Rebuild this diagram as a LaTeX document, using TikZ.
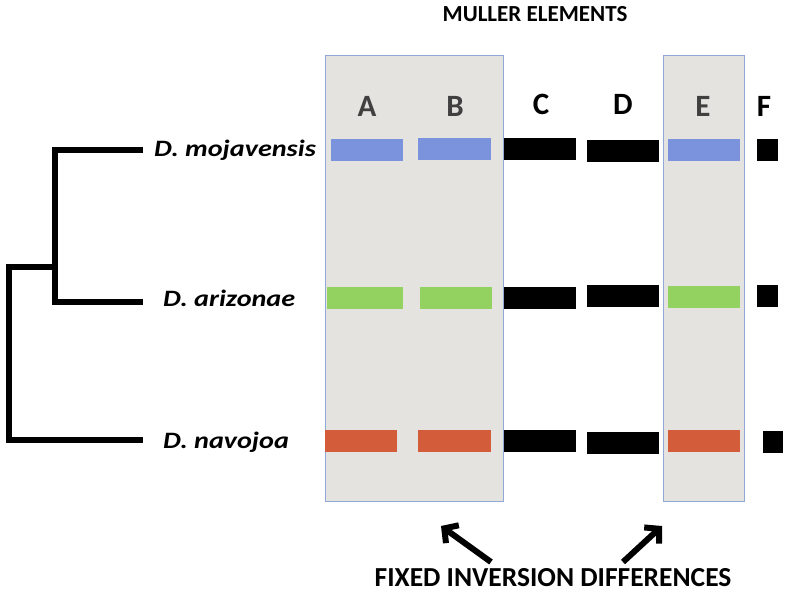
\documentclass[tikz,border=0pt]{standalone}
\usepackage{fontspec}
\setmainfont{Carlito}
\newfontfamily\specfont[FakeStretch=1.2]{Carlito}
\usetikzlibrary{arrows.meta}
\definecolor{bblue}{HTML}{7B92DD}
\definecolor{bgreen}{HTML}{93D260}
\definecolor{borange}{HTML}{D35C3B}
\definecolor{boxgray}{HTML}{E5E3DF}
\definecolor{boxedge}{HTML}{8FA8D6}
\definecolor{lettergray}{HTML}{404040}
\tikzset{
  bar/.style={draw=none, inner sep=0pt, minimum height=22pt, minimum width=72pt},
  regionbox/.style={fill=boxgray, draw=boxedge, line width=0.8pt},
  species/.style={font=\specfont\fontsize{23.5}{25}\selectfont\bfseries\itshape, inner sep=0pt},
  colletter/.style={font=\fontsize{31}{33}\selectfont\bfseries, inner sep=0pt},
  title/.style={font=\fontsize{23}{25}\selectfont\bfseries, inner sep=0pt},
  bigtitle/.style={font=\fontsize{27.5}{30}\selectfont\bfseries, inner sep=0pt},
  branch/.style={line width=6.5pt, line cap=butt},
  pointer/.style={line width=6pt, -{Straight Barb[length=10pt, width=22pt, line width=6pt]}}
}
\begin{document}
\begin{tikzpicture}[x=1pt, y=-1pt]
\useasboundingbox (0,0) rectangle (789,598);
% highlighted regions
\draw[regionbox] (325,55) rectangle (503,501);
\draw[regionbox] (663,55) rectangle (744,501);
% titles
\node[title] (muller) at (535,14) {MULLER ELEMENTS};
\node[bigtitle] (fixed) at (553,578) {FIXED INVERSION DIFFERENCES};
% column letters
\node[colletter, text=lettergray] (lA) at (367,106) {A};
\node[colletter, text=lettergray] (lB) at (455,106) {B};
\node[colletter] (lC) at (541,104) {C};
\node[colletter] (lD) at (623,104) {D};
\node[colletter, text=lettergray] (lE) at (703,106) {E};
\node[colletter] (lF) at (764,106) {F};
% row 1
\node[bar, fill=bblue] (a1) at (367,150) {};
\node[bar, fill=bblue, minimum width=73pt] (b1) at (454.5,149) {};
\node[bar, fill=black] (c1) at (540,149) {};
\node[bar, fill=black] (d1) at (623,151) {};
\node[bar, fill=bblue] (e1) at (704,150) {};
\node[bar, fill=black, minimum width=21pt] (f1) at (767.5,150) {};
% row 2
\node[bar, fill=bgreen, minimum width=76pt] (a2) at (365,297.5) {};
\node[bar, fill=bgreen] (b2) at (456,297.5) {};
\node[bar, fill=black] (c2) at (540,298) {};
\node[bar, fill=black] (d2) at (623,296) {};
\node[bar, fill=bgreen] (e2) at (704,297) {};
\node[bar, fill=black, minimum width=21pt] (f2) at (767.5,296) {};
% row 3
\node[bar, fill=borange] (a3) at (361,441) {};
\node[bar, fill=borange, minimum width=73pt] (b3) at (454.5,441) {};
\node[bar, fill=black] (c3) at (540,441) {};
\node[bar, fill=black] (d3) at (623,443) {};
\node[bar, fill=borange] (e3) at (704,441) {};
\node[bar, fill=black, minimum width=20pt] (f3) at (773,442) {};
% species labels
\node[species, anchor=west] (moj) at (154,150) {D. mojavensis};
\node[species, anchor=west] (ari) at (163,298) {D. arizonae};
\node[species, anchor=west] (nav) at (163,442) {D. navojoa};
% tree
\coordinate (t1) at (143,150);
\coordinate (t2) at (143,302);
\coordinate (t3) at (143,440);
\coordinate (j1) at (55,267);
\coordinate (root) at (9,267);
\draw[branch] (t1) -| (55,150) -- (55,302) -- (t2);
\draw[branch] (j1) -- (root) -- (9,440) -- (t3);
% arrows
\coordinate (tailL) at (491,562);
\coordinate (tipL) at (441,526);
\coordinate (tailR) at (623,562);
\coordinate (tipR) at (662,526);
\draw[pointer] (tailL) -- (tipL);
\draw[pointer] (tailR) -- (tipR);
\end{tikzpicture}
\end{document}
